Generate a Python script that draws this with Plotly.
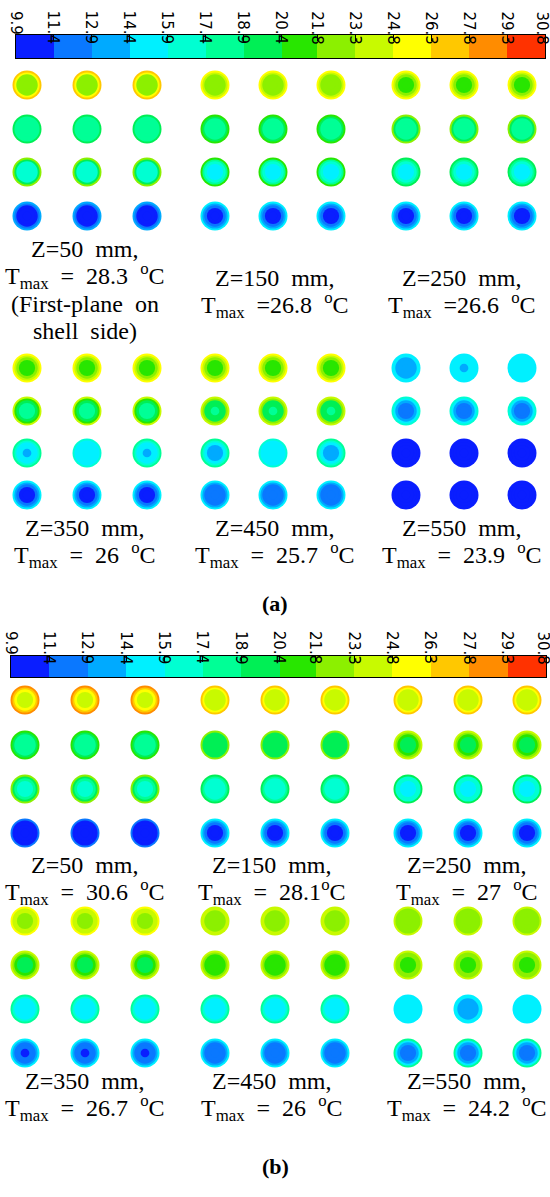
import plotly.graph_objects as go

# Contour band edges (°C), their printed labels and band fill colours
levels = [9.9, 11.4, 12.9, 14.4, 15.9, 17.4, 18.9, 20.4, 21.8, 23.3, 24.8, 26.3, 27.8, 29.3, 30.8]
level_labels = ["9.9", "11.4", "12.9", "14.4", "15.9", "17.4", "18.9", "20.4",
                "21.8", "23.3", "24.8", "26.3", "27.8", "29.3", "30.8"]
band_colors = ["#0a1eff", "#0a78ff", "#00aaff", "#00f0ff", "#00ffd2", "#00ff96", "#00ef55",
               "#28e600", "#8cf000", "#c8fa00", "#ffff00", "#ffc800", "#ff8c00", "#ff3200"]

# Axial planes and peak temperatures for the two cases
plane_z = [50, 150, 250, 350, 450, 550]
tmax_a = [28.3, 26.8, 26.6, 26, 25.7, 23.9]
tmax_b = [30.6, 28.1, 27, 26.7, 26, 24.2]

# Radial temperature samples of each tube row (wall -> centre), 4 tube rows per plane
temps_a = {
    50:  [[27.5, 25.5, 23.0, 23.0, 23.0], [20.2, 18.5, 18.0, 18.0, 17.8],
          [22.0, 19.5, 17.0, 16.5, 16.5], [13.5, 12.0, 10.5, 10.5, 10.5]],
    150: [[26.0, 24.5, 23.0, 23.0, 23.0], [21.0, 19.5, 18.0, 18.0, 18.0],
          [20.5, 18.5, 16.0, 15.5, 15.5], [15.0, 13.5, 12.0, 10.5, 10.5]],
    250: [[25.5, 24.0, 22.5, 21.0, 21.0], [22.5, 20.0, 18.5, 18.0, 18.0],
          [19.5, 17.5, 16.0, 15.5, 15.5], [15.0, 13.5, 12.5, 10.5, 10.5]],
    350: [[25.5, 24.0, 22.5, 21.0, 21.0], [23.5, 21.5, 19.5, 18.0, 18.0],
          [18.0, 16.5, 15.5, 15.2, 14.0], [15.0, 13.5, 12.0, 11.0, 10.5]],
    450: [[25.5, 24.0, 22.0, 21.0, 21.0], [23.5, 22.0, 20.0, 19.5, 18.5],
          [18.0, 16.5, 15.0, 13.8, 13.8], [15.0, 14.0, 12.5, 12.0, 12.0]],
    550: [[15.5, 15.0, 14.0, 14.0, 14.0], [17.0, 15.5, 13.5, 12.2, 12.2],
          [10.5, 10.5, 10.5, 10.5, 10.5], [10.5, 10.5, 10.5, 10.5, 10.5]],
}
temps_b = {
    50:  [[29.0, 27.5, 25.5, 24.0, 24.0], [20.5, 19.0, 18.0, 17.8, 17.8],
          [22.0, 20.0, 17.5, 16.5, 16.5], [12.0, 10.5, 10.5, 10.5, 10.5]],
    150: [[27.0, 25.5, 24.0, 24.0, 24.0], [22.0, 20.0, 19.5, 19.5, 19.5],
          [19.5, 17.5, 17.0, 16.8, 16.5], [15.0, 13.5, 12.0, 10.5, 10.5]],
    250: [[26.5, 25.5, 24.0, 24.0, 24.0], [24.0, 22.5, 20.5, 19.5, 19.5],
          [19.5, 17.0, 16.0, 15.5, 15.5], [15.0, 13.5, 12.5, 11.0, 10.5]],
    350: [[26.0, 24.5, 23.5, 22.5, 22.5], [24.0, 22.5, 21.0, 19.5, 19.0],
          [18.0, 16.0, 15.5, 15.5, 15.5], [15.0, 13.5, 12.5, 11.5, 10.8]],
    450: [[24.5, 23.5, 23.0, 23.0, 23.0], [24.5, 23.0, 21.5, 21.0, 21.0],
          [17.5, 16.0, 15.5, 15.5, 15.5], [15.0, 13.5, 12.5, 12.0, 12.0]],
    550: [[23.5, 23.0, 23.0, 23.0, 23.0], [24.0, 23.0, 22.0, 21.0, 21.0],
          [15.5, 15.5, 15.5, 15.5, 15.5], [17.5, 15.5, 13.8, 12.5, 12.5]],
}
# Individual tubes that differ from the rest of their row: (plane, row, tube)
tube_overrides_a = {
    (550, 0, 1): [15.5, 15.5, 15.5, 15.5, 14.0],
    (550, 0, 2): [15.5, 15.5, 15.5, 15.5, 15.5],
    (450, 2, 1): [16.0, 15.5, 15.5, 15.5, 15.5],
    (350, 2, 1): [16.5, 15.5, 15.5, 15.5, 15.5],
}
tube_overrides_b = {
    (550, 2, 1): [15.5, 15.0, 14.0, 14.0, 14.0],
}

# ---- layout constants (pixel frame of the 550 x 1197 page) ----
W, H = 550, 1197
station_frac = [1.0, 0.87, 0.74, 0.56, 0.3]   # relative radii of the sampled rings
tube_d = 29

panels = [
    dict(temps=temps_a, over=tube_overrides_a, tmax=tmax_a,
         cols=[27, 87, 147, 215, 273, 331, 406, 464, 522],
         rows=[[85, 129, 172, 216], [368, 411, 453, 495]],
         bar=(16, 545, 35, 58), lab_top=9,
         text_x=[85, 275, 462],
         text_y=[[249, 278, 278], [528, 528, 528]],
         tag="(a)", tag_y=603),
    dict(temps=temps_b, over=tube_overrides_b, tmax=tmax_b,
         cols=[25, 85, 145, 215, 275, 335, 408, 468, 527],
         rows=[[700, 745, 789, 833], [921, 965, 1009, 1053]],
         bar=(11, 546, 656, 677), lab_top=629,
         text_x=[85, 272, 467],
         text_y=[[865, 865, 865], [1081, 1081, 1081]],
         tag="(b)", tag_y=1166),
]

span = levels[-1] - levels[0]
colorscale = []
for i, c in enumerate(band_colors):
    colorscale.append([(levels[i] - levels[0]) / span, c])
    colorscale.append([(levels[i + 1] - levels[0]) / span, c])
band_mid = [(levels[i] + levels[i + 1]) / 2 for i in range(len(band_colors))]

serif = "Liberation Serif"
fig = go.Figure()
annotations = []


def fmt(v):
    return f"{v:g}"


for p_idx, p in enumerate(panels):
    xs, ys, ring_t = [], [], [[] for _ in station_frac]
    for block, zs in enumerate([plane_z[:3], plane_z[3:]]):
        for g, z in enumerate(zs):
            for r in range(4):
                for t in range(3):
                    prof = p["over"].get((z, r, t), p["temps"][z][r])
                    xs.append(p["cols"][3 * g + t])
                    ys.append(p["rows"][block][r])
                    for k, v in enumerate(prof):
                        ring_t[k].append(v)
    for k, frac in enumerate(station_frac):
        fig.add_trace(go.Scatter(
            x=xs, y=ys, mode="markers", hoverinfo="skip", showlegend=False,
            marker=dict(size=tube_d * frac, color=ring_t[k], colorscale=colorscale,
                        cmin=levels[0], cmax=levels[-1], line=dict(width=0)),
            xaxis="x", yaxis="y"))

    # plane captions
    for block in range(2):
        for g in range(3):
            i = 3 * block + g
            z, tm = plane_z[i], p["tmax"][i]
            y0 = p["text_y"][block][g]
            if p_idx == 0 and i in (1, 2):
                t_line = f"T<sub>max</sub>  ={fmt(tm)}  <sup>o</sup>C"
            elif p_idx == 1 and i == 1:
                t_line = f"T<sub>max</sub>  =  {fmt(tm)}<sup>o</sup>C"
            else:
                t_line = f"T<sub>max</sub>  =  {fmt(tm)}  <sup>o</sup>C"
            lines = [f"Z={z}  mm,", t_line]
            if p_idx == 0 and i == 0:
                lines += ["(First-plane  on", "shell  side)"]
            for li, txt in enumerate(lines):
                annotations.append(dict(
                    x=p["text_x"][g], y=y0 + li * 27.3, xref="x", yref="y",
                    text=txt, showarrow=False, xanchor="center", yanchor="middle",
                    font=dict(family=serif, size=24, color="black")))

    annotations.append(dict(x=W / 2, y=p["tag_y"], xref="x", yref="y", text=f"<b>{p['tag']}</b>",
                            showarrow=False, xanchor="center", yanchor="middle",
                            font=dict(family=serif, size=22, color="black")))

    # colour bar drawn as a one-row heatmap on its own axes
    n = p_idx + 2
    x0, x1, yt, yb = p["bar"]
    fig.add_trace(go.Heatmap(
        x=levels, y=[0, 1], z=[band_mid], colorscale=colorscale,
        zmin=levels[0], zmax=levels[-1], showscale=False, hoverinfo="skip",
        xaxis=f"x{n}", yaxis=f"y{n}"))
    fig.update_layout(**{
        f"xaxis{n}": dict(domain=[x0 / W, x1 / W], range=[levels[0], levels[-1]], anchor=f"y{n}",
                          side="top", showline=True, mirror=True, linecolor="black", linewidth=1,
                          ticks="inside", ticklen=6, tickcolor="black", tickvals=levels,
                          showticklabels=False, showgrid=False, zeroline=False, fixedrange=True),
        f"yaxis{n}": dict(domain=[1 - yb / H, 1 - yt / H], range=[0, 1], anchor=f"x{n}",
                          showline=True, mirror=True, linecolor="black", linewidth=1,
                          showticklabels=False, ticks="", showgrid=False, zeroline=False,
                          fixedrange=True),
    })
    for j, (v, lab) in enumerate(zip(levels, level_labels)):
        annotations.append(dict(x=v, y=p["lab_top"], xref=f"x{n}", yref="y", text=lab,
                                textangle=90, showarrow=False, xanchor="center", yanchor="top",
                                xshift=-3 if j == len(levels) - 1 else 0,
                                font=dict(family="DejaVu Sans", size=15, color="black")))

fig.update_layout(
    width=W, height=H, margin=dict(l=0, r=0, t=0, b=0),
    paper_bgcolor="white", plot_bgcolor="rgba(0,0,0,0)",
    xaxis=dict(domain=[0, 1], range=[0, W], visible=False, fixedrange=True),
    yaxis=dict(domain=[0, 1], range=[H, 0], visible=False, fixedrange=True),
    annotations=annotations, showlegend=False,
)

fig.write_html("out.html")
